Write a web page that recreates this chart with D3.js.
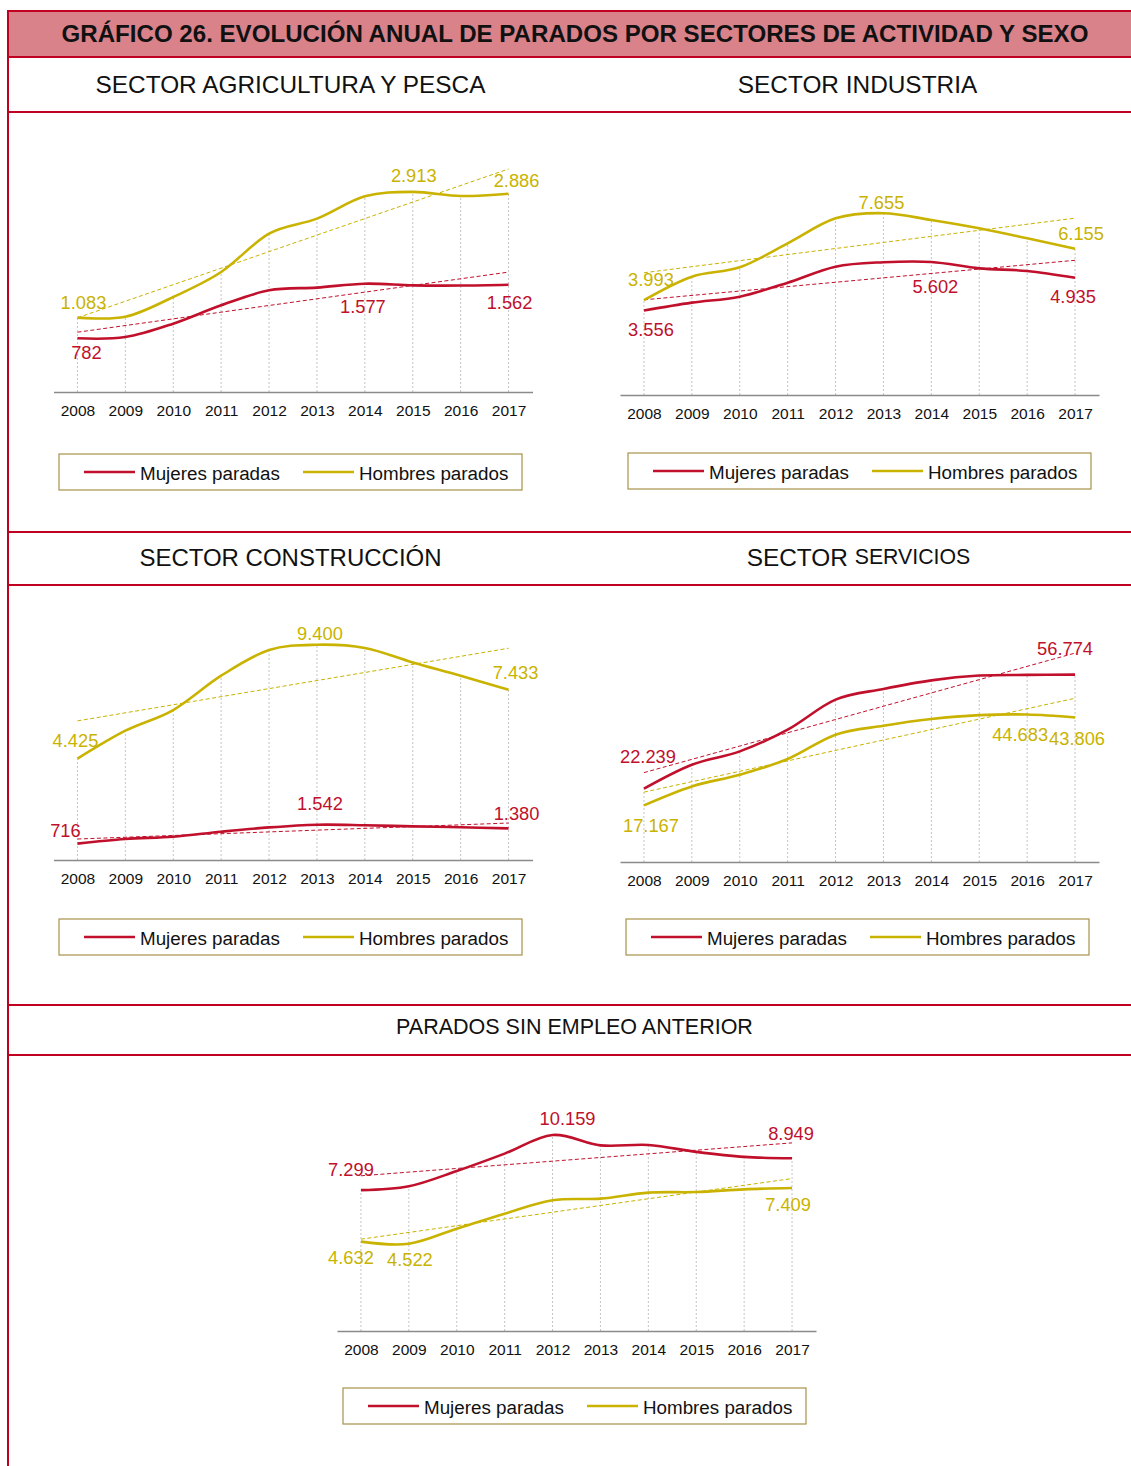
<!DOCTYPE html>
<html>
<head>
<meta charset="utf-8">
<script src="https://cdn.jsdelivr.net/npm/d3@7"></script>
<style>
  body { margin: 0; background: #fff; }
  svg { display: block; font-family: "Liberation Sans", Arial, sans-serif; }
</style>
</head>
<body>
<script>
const years = ["2008", "2009", "2010", "2011", "2012", "2013", "2014", "2015", "2016", "2017"];

const agriMujeres = [782, 800, 995, 1262, 1480, 1520, 1577, 1553, 1550, 1562];
const agriHombres = [1083, 1095, 1383, 1747, 2306, 2524, 2849, 2913, 2853, 2886];
const indMujeres = [3556, 3888, 4140, 4730, 5404, 5590, 5602, 5333, 5221, 4935];
const indHombres = [3993, 4981, 5375, 6386, 7438, 7655, 7368, 7017, 6596, 6155];
const conMujeres = [716, 917, 1017, 1236, 1424, 1542, 1520, 1470, 1430, 1380];
const conHombres = [4425, 5646, 6550, 8048, 9170, 9400, 9258, 8629, 8048, 7433];
const serMujeres = [22239, 29490, 33520, 40100, 49190, 52420, 55030, 56500, 56700, 56774];
const serHombres = [17167, 22900, 26450, 31200, 38580, 41300, 43330, 44500, 44683, 43806];
const sinMujeres = [7299, 7500, 8290, 9190, 10159, 9620, 9640, 9280, 9020, 8949];
const sinHombres = [4632, 4522, 5300, 6080, 6770, 6860, 7170, 7200, 7340, 7409];

const seriesNames = ["Mujeres paradas", "Hombres parados"];

const RED = "#c0102c";
const GOLD = "#c9b300";
const FRAME = "#c00020";
const FONT = "'Liberation Sans', Arial, sans-serif";

const width = 1131, height = 1466;

const svg = d3.select("body").append("svg")
    .attr("width", width)
    .attr("height", height);

svg.append("rect").attr("width", width).attr("height", height).attr("fill", "#fff");

const es = d3.formatLocale({ decimal: ",", thousands: ".", grouping: [3], currency: ["", " €"] });
const fmt = es.format(",d");

// header + frame
svg.append("rect")
    .attr("x", 8).attr("y", 11)
    .attr("width", width - 8).attr("height", 46)
    .attr("fill", "#d9828a");

svg.append("text")
    .attr("x", 575).attr("y", 33.5)
    .attr("text-anchor", "middle")
    .attr("dominant-baseline", "central")
    .style("font-size", "24.1px")
    .style("font-weight", "bold")
    .style("fill", "#111")
    .text("GRÁFICO 26. EVOLUCIÓN ANUAL DE PARADOS POR SECTORES DE ACTIVIDAD Y SEXO");

[11, 57, 112, 532, 585, 1005, 1055].forEach(y => {
    svg.append("line")
        .attr("x1", 7).attr("x2", width)
        .attr("y1", y).attr("y2", y)
        .attr("stroke", FRAME).attr("stroke-width", 2);
});
svg.append("line")
    .attr("x1", 8).attr("x2", 8)
    .attr("y1", 10).attr("y2", height)
    .attr("stroke", FRAME).attr("stroke-width", 2);

// section titles
const subtitles = [
    { text: "SECTOR AGRICULTURA Y PESCA", x: 290.5, y: 84, size: 24.4 },
    { text: "SECTOR INDUSTRIA", x: 857.5, y: 84, size: 24.4 },
    { text: "SECTOR CONSTRUCCIÓN", x: 290.5, y: 557, size: 24 },
    { text: "PARADOS SIN EMPLEO ANTERIOR", x: 574.5, y: 1027, size: 21.5 }
];
subtitles.forEach(s => {
    svg.append("text")
        .attr("x", s.x).attr("y", s.y)
        .attr("text-anchor", "middle")
        .attr("dominant-baseline", "central")
        .style("font-size", s.size + "px")
        .style("fill", "#111")
        .text(s.text);
});
const serv = svg.append("text")
    .attr("x", 858.5).attr("y", 557)
    .attr("text-anchor", "middle")
    .attr("dominant-baseline", "central")
    .style("fill", "#111");
serv.append("tspan").style("font-size", "24.4px").text("SECTOR ");
serv.append("tspan").style("font-size", "21.3px").text("SERVICIOS");

// panels
const panels = [
    {
        mujeres: agriMujeres, hombres: agriHombres,
        axisLeft: 53.5, axisY: 392, yMax: 3500, top: 151.6,
        legendX: 59, legendY: 454,
        labels: [["h", 0, 6, -15], ["m", 0, 9, 14], ["h", 7, 1, -16], ["h", 9, 8, -13], ["m", 6, -2, 23], ["m", 9, 1, 18]]
    },
    {
        mujeres: indMujeres, hombres: indHombres,
        axisLeft: 620, axisY: 395, yMax: 9000, top: 181.25,
        legendX: 628, legendY: 453,
        labels: [["h", 0, 7, -21], ["m", 0, 7, 19], ["h", 5, -2, -11], ["h", 9, 6, -15], ["m", 6, 4, 25], ["m", 9, -2, 19]]
    },
    {
        mujeres: conMujeres, hombres: conHombres,
        axisLeft: 53.5, axisY: 860, yMax: 10000, top: 631,
        legendX: 59, legendY: 919,
        labels: [["h", 0, -2, -18], ["m", 0, -12, -13], ["h", 5, 3, -11], ["h", 9, 7, -17], ["m", 5, 3, -21], ["m", 9, 8, -15]]
    },
    {
        mujeres: serMujeres, hombres: serHombres,
        axisLeft: 620, axisY: 862, yMax: 60000, top: 664,
        legendX: 626, legendY: 919,
        labels: [["m", 0, 4, -32], ["h", 0, 7, 20], ["m", 9, -10, -26], ["h", 8, -7, 20], ["h", 9, 2, 21]]
    },
    {
        mujeres: sinMujeres, hombres: sinHombres,
        axisLeft: 337, axisY: 1331, yMax: 12000, top: 1099.4,
        legendX: 343, legendY: 1388,
        labels: [["m", 0, -10, -21], ["h", 0, -10, 16], ["h", 1, 1, 16], ["m", 4, 15, -16], ["m", 9, -1, -25], ["h", 9, -4, 16]]
    }
];

// least squares trend, returns values at first and last year
function trend(values) {
    const n = values.length;
    const mx = d3.mean(values, (d, i) => i);
    const my = d3.mean(values);
    let sxy = 0, sxx = 0;
    values.forEach((v, i) => { sxy += (i - mx) * (v - my); sxx += (i - mx) * (i - mx); });
    const b = sxy / sxx;
    const a = my - b * mx;
    return [a, a + b * (n - 1)];
}

panels.forEach(p => {
    const g = svg.append("g");

    const x = d3.scalePoint()
        .domain(years)
        .range([p.axisLeft, p.axisLeft + 479])
        .padding(0.5);

    const y = d3.scaleLinear()
        .domain([0, p.yMax])
        .range([p.axisY, p.top]);

    // drop lines
    g.selectAll(".drop")
        .data(years)
        .enter().append("line")
        .attr("x1", d => x(d)).attr("x2", d => x(d))
        .attr("y1", p.axisY)
        .attr("y2", (d, i) => y(Math.max(p.mujeres[i], p.hombres[i])))
        .attr("stroke", "#c4c4c4")
        .attr("stroke-width", 1)
        .attr("stroke-dasharray", "2,2");

    // axis
    const axis = g.append("g")
        .attr("transform", `translate(0,${p.axisY})`)
        .call(d3.axisBottom(x).tickSize(0).tickPadding(13));
    axis.select(".domain").attr("stroke", "#8a8a8a").attr("stroke-width", 1.6);
    axis.selectAll("text")
        .style("font-size", "15.5px")
        .style("fill", "#111")
        .style("font-family", FONT);

    const line = d3.line()
        .x((d, i) => x(years[i]))
        .y(d => y(d))
        .curve(d3.curveCardinal.tension(0));

    const series = [
        { key: "h", values: p.hombres, color: GOLD },
        { key: "m", values: p.mujeres, color: RED }
    ];

    // trend lines
    series.forEach(s => {
        const t = trend(s.values);
        g.append("line")
            .attr("x1", x(years[0])).attr("x2", x(years[years.length - 1]))
            .attr("y1", y(t[0])).attr("y2", y(t[1]))
            .attr("stroke", s.color)
            .attr("stroke-width", 1)
            .attr("stroke-dasharray", "4,2.5");
    });

    series.forEach(s => {
        g.append("path")
            .attr("d", line(s.values))
            .attr("fill", "none")
            .attr("stroke", s.color)
            .attr("stroke-width", 2.6);
    });

    // data labels
    p.labels.forEach(([key, i, dx, dy]) => {
        const vals = key === "m" ? p.mujeres : p.hombres;
        g.append("text")
            .attr("x", x(years[i]) + dx)
            .attr("y", y(vals[i]) + dy)
            .attr("text-anchor", "middle")
            .attr("dominant-baseline", "central")
            .style("font-size", "18.3px")
            .style("fill", key === "m" ? RED : GOLD)
            .text(fmt(vals[i]));
    });

    // legend
    const lg = g.append("g").attr("transform", `translate(${p.legendX},${p.legendY})`);
    lg.append("rect")
        .attr("width", 463).attr("height", 36)
        .attr("fill", "#fff")
        .attr("stroke", "#a8924a")
        .attr("stroke-width", 1.2);
    [[RED, 25], [GOLD, 244]].forEach(([c, ox], k) => {
        lg.append("line")
            .attr("x1", ox).attr("x2", ox + 51)
            .attr("y1", 18).attr("y2", 18)
            .attr("stroke", c).attr("stroke-width", 2.6);
        lg.append("text")
            .attr("x", ox + 56).attr("y", 19)
            .attr("dominant-baseline", "central")
            .style("font-size", "18.8px")
            .style("fill", "#111")
            .text(seriesNames[k]);
    });
});
</script>
</body>
</html>
